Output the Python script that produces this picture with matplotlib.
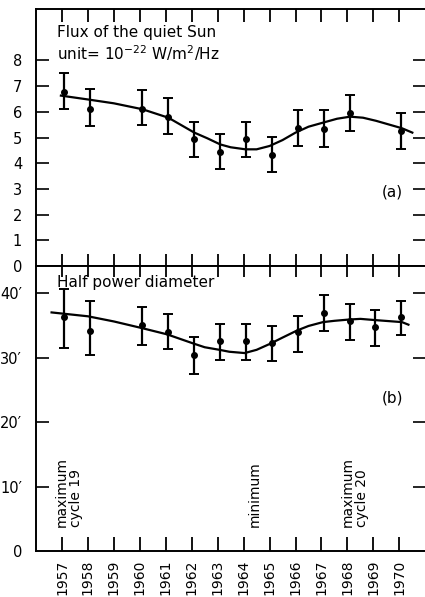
import matplotlib
matplotlib.use("Agg")
import matplotlib.pyplot as plt
import numpy as np

# ---------------- data ----------------
years_a = [1957, 1958, 1960, 1961, 1962, 1963, 1964, 1965, 1966, 1967, 1968, 1970]
flux = [6.78, 6.10, 6.10, 5.81, 4.94, 4.45, 4.93, 4.32, 5.36, 5.32, 5.94, 5.26]
flux_hi = [7.50, 6.88, 6.85, 6.55, 5.62, 5.14, 5.62, 5.01, 6.07, 6.07, 6.65, 5.94]
flux_lo = [6.10, 5.46, 5.49, 5.14, 4.25, 3.76, 4.25, 3.67, 4.67, 4.64, 5.26, 4.54]

curve_a_x = [1956.96, 1958.0, 1959.0, 1960.1, 1961.1, 1962.1, 1962.6, 1963.1, 1963.5,
             1964.07, 1964.5, 1965.0, 1965.5, 1966.0, 1966.5, 1967.1, 1967.6, 1968.1,
             1968.6, 1969.1, 1970.1, 1970.5]
curve_a_y = [6.63, 6.48, 6.33, 6.10, 5.77, 5.19, 4.97, 4.73, 4.62,
             4.54, 4.54, 4.67, 4.90, 5.19, 5.42, 5.59, 5.73, 5.81,
             5.77, 5.65, 5.36, 5.19]

years_b = [1957, 1958, 1960, 1961, 1962, 1963, 1964, 1965, 1966, 1967, 1968, 1969, 1970]
diam = [36.3, 34.1, 35.1, 33.9, 30.4, 32.5, 32.5, 32.2, 33.9, 36.9, 35.6, 34.8, 36.3]
diam_hi = [40.7, 38.7, 37.8, 36.8, 33.2, 35.2, 35.2, 34.9, 36.4, 39.7, 38.3, 37.3, 38.8]
diam_lo = [31.5, 30.4, 32.0, 31.3, 27.5, 29.6, 29.6, 29.5, 30.8, 34.1, 32.7, 31.8, 33.5]

curve_b_x = [1956.6, 1958.0, 1959.0, 1960.05, 1961.05, 1962.05, 1962.5, 1963.07, 1963.45,
             1964.04, 1964.5, 1965.0, 1965.5, 1966.06, 1966.5, 1967.06, 1967.5, 1968.07,
             1968.5, 1969.1, 1970.1, 1970.35]
curve_b_y = [37.0, 36.4, 35.6, 34.6, 33.6, 32.2, 31.6, 31.2, 30.9,
             30.7, 31.2, 32.1, 33.1, 34.2, 34.9, 35.5, 35.7, 35.9,
             36.0, 35.8, 35.5, 35.1]

year_ticks = list(range(1957, 1971))
a_ticks = [0, 1, 2, 3, 4, 5, 6, 7, 8]
a_labels = ["0", "1", "2", "3", "4", "5", "6", "7", "8"]
b_ticks = [0, 10, 20, 30, 40]
b_labels = ["0", "10\u2032", "20\u2032", "30\u2032", "40\u2032"]

plt.rcParams['font.family'] = ['DejaVu Sans']
W, H = 425, 597
fig = plt.figure(figsize=(W / 100, H / 100), dpi=100)

def fx(px):
    return px / W

def fy(py):
    return 1 - py / H

left = fx(36)
right = fx(425.3)
ax_a = fig.add_axes([left, fy(266), right - left, fy(9) - fy(266)])
ax_b = fig.add_axes([left, fy(551), right - left, fy(266) - fy(551)])

LW = 1.4
off = 0.08
for ax in (ax_a, ax_b):
    ax.set_xlim(1956, 1971)
    for s in ax.spines.values():
        s.set_linewidth(LW)
        s.set_color('black')
    ax.spines['right'].set_visible(False)
    ax.set_xticks(year_ticks)
    ax.xaxis.set_ticks_position('both')
    ax.yaxis.set_ticks_position('both')

# ---- panel a ----
ya = np.array(flux)
ax_a.errorbar(np.array(years_a) + off, ya,
              yerr=[ya - np.array(flux_lo), np.array(flux_hi) - ya],
              fmt='o', color='black', ms=4, elinewidth=1.6, capsize=3.5, capthick=1.4)
ax_a.plot(curve_a_x, curve_a_y, color='black', lw=1.6)
ax_a.set_ylim(0, 10)
ax_a.set_yticks(a_ticks)
ax_a.set_yticklabels(a_labels, fontsize=10.5)
ax_a.tick_params(axis='y', direction='in', length=9, width=1.2, pad=10, color='black')
ax_a.tick_params(axis='x', direction='in', length=9, width=1.3, labelbottom=False,
                 labeltop=False, color='black')
ax_a.yaxis.get_major_ticks()[0].tick1line.set_visible(False)
ax_a.yaxis.get_major_ticks()[0].tick2line.set_visible(False)

fig.text(fx(57), fy(33), "Flux of the quiet Sun", fontsize=11, va='center', ha='left')
fig.text(fx(57), fy(53), "unit= $10^{-22}$ W/m$^2$/Hz", fontsize=11, va='center', ha='left')
fig.text(fx(403), fy(192), "(a)", fontsize=11, va='center', ha='right')

# ---- panel b ----
yb = np.array(diam)
ax_b.errorbar(np.array(years_b) + off, yb,
              yerr=[yb - np.array(diam_lo), np.array(diam_hi) - yb],
              fmt='o', color='black', ms=4, elinewidth=1.6, capsize=3.5, capthick=1.4)
ax_b.plot(curve_b_x, curve_b_y, color='black', lw=1.6)
ax_b.set_ylim(0, 44.2)
ax_b.set_yticks(b_ticks)
ax_b.set_yticklabels(b_labels, fontsize=10.5)
ax_b.tick_params(axis='y', direction='in', length=9, width=1.2, pad=10, color='black')
ax_b.yaxis.get_major_ticks()[0].tick1line.set_visible(False)
ax_b.yaxis.get_major_ticks()[0].tick2line.set_visible(False)
ax_b.tick_params(axis='x', direction='in', length=8, width=1.3, pad=6,
                 labeltop=False, labelbottom=True, color='black')
ax_b.set_xticklabels([str(y) for y in year_ticks], rotation=90, fontsize=10)
for t in ax_b.xaxis.get_major_ticks():
    t.tick1line.set_markersize(10)

fig.text(fx(57), fy(282), "Half power diameter", fontsize=11, va='center', ha='left')
fig.text(fx(403), fy(398), "(b)", fontsize=11, va='center', ha='right')

ax_b.text(1957.28, 3.7, "maximum\ncycle 19", rotation=90, fontsize=10,
          ha='center', va='bottom', linespacing=1.0, multialignment='left')
ax_b.text(1964.43, 3.7, "minimum", rotation=90, fontsize=10,
          ha='center', va='bottom')
ax_b.text(1968.3, 3.7, "maximum\ncycle 20", rotation=90, fontsize=10,
          ha='center', va='bottom', linespacing=1.0, multialignment='left')

fig.savefig("out.png", dpi=100)
